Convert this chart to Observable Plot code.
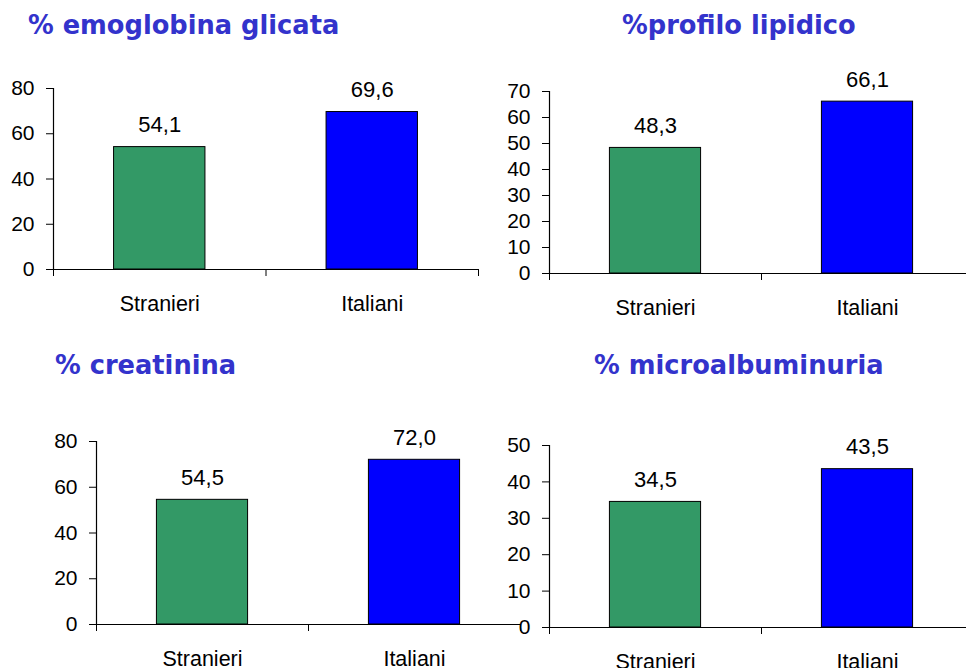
<!DOCTYPE html>
<html>
<head>
<meta charset="utf-8">
<script src="https://cdn.jsdelivr.net/npm/d3@7"></script>
<script src="https://cdn.jsdelivr.net/npm/@observablehq/plot@0.6"></script>
<style>
  html, body { margin: 0; padding: 0; background: #fff; }
  #page { position: relative; width: 966px; height: 668px; overflow: hidden; background: #fff; }
  #page svg { position: absolute; left: 0; top: 0; }
  .title {
    position: absolute;
    font-family: "DejaVu Sans", Verdana, sans-serif;
    font-weight: bold;
    font-size: 25.7px;
    line-height: 26px;
    color: #3333cc;
    white-space: nowrap;
  }
</style>
</head>
<body>
<div id="page"></div>
<script>
// Groups compared in every panel
const categories = ["Stranieri", "Italiani"];
const barColors = ["#339966", "#0000ff"];

// Panel titles
const titles = ["% emoglobina glicata", "%profilo lipidico", "% creatinina", "% microalbuminuria"];

// Percentages per group (Stranieri, Italiani)
const emoglobinaGlicata = [54.1, 69.6];
const profiloLipidico = [48.3, 66.1];
const creatinina = [54.5, 72.0];
const microalbuminuria = [34.5, 43.5];

// Y axis extent and tick step per panel
const yMaxima = [80, 70, 80, 50];
const yTickSteps = [20, 10, 20, 10];

const seriesList = [emoglobinaGlicata, profiloLipidico, creatinina, microalbuminuria];

// Placement of each panel on the page (frame edges in page pixels)
const W = 980, H = 668;
const frames = [
  {left: 53, right: 478, top: 88, bottom: 269, titleX: 28, titleY: 12},
  {left: 549, right: 973, top: 91, bottom: 273, titleX: 622, titleY: 12},
  {left: 96, right: 520, top: 441, bottom: 624, titleX: 55, titleY: 352},
  {left: 549, right: 973, top: 445, bottom: 627, titleX: 594, titleY: 352}
];

const fmt = v => v.toFixed(1).replace(".", ",");
const gap = 0.285; // fraction of each category slot left empty on either side of a bar

const page = document.getElementById("page");

seriesList.forEach((values, k) => {
  const f = frames[k];
  const rows = categories.map((c, i) => ({category: c, index: i, value: values[i]}));

  const chart = Plot.plot({
    width: W,
    height: H,
    marginLeft: f.left,
    marginRight: W - f.right,
    marginTop: f.top,
    marginBottom: H - f.bottom,
    style: {
      background: "transparent",
      overflow: "visible",
      maxWidth: "none",
      color: "#000",
      fontFamily: "'Liberation Sans', Arial, sans-serif"
    },
    x: {domain: [0, categories.length]},
    y: {domain: [0, yMaxima[k]]},
    color: {domain: categories, range: barColors},
    marks: [
      Plot.rectY(rows, {
        x1: d => d.index + gap,
        x2: d => d.index + 1 - gap,
        y: "value",
        fill: "category",
        stroke: "#000",
        strokeWidth: 1
      }),
      Plot.text(rows, {
        x: d => d.index + 0.5,
        y: "value",
        text: d => fmt(d.value),
        lineAnchor: "bottom",
        dy: -15,
        fontSize: 22,
        fill: "#000"
      }),
      Plot.axisY({
        ticks: d3.range(0, yMaxima[k] + 1, yTickSteps[k]),
        tickSize: 7,
        tickPadding: 12,
        fontSize: 21,
        label: null,
        stroke: "#000"
      }),
      // category slot boundaries
      Plot.axisX({
        ticks: d3.range(0, categories.length + 1),
        tickSize: 7,
        tickFormat: () => "",
        label: null,
        stroke: "#000"
      }),
      // category names at slot centres
      Plot.axisX({
        ticks: categories.map((c, i) => i + 0.5),
        tickSize: 0,
        tickPadding: 26,
        tickFormat: d => categories[Math.floor(d)],
        fontSize: 21.5,
        label: null
      }),
      Plot.ruleX([0], {stroke: "#000", strokeWidth: 1.2}),
      Plot.ruleY([0], {stroke: "#000", strokeWidth: 1.2})
    ]
  });
  page.appendChild(chart);

  const t = document.createElement("div");
  t.className = "title";
  t.textContent = titles[k];
  t.style.left = f.titleX + "px";
  t.style.top = f.titleY + "px";
  page.appendChild(t);
});
</script>
</body>
</html>
